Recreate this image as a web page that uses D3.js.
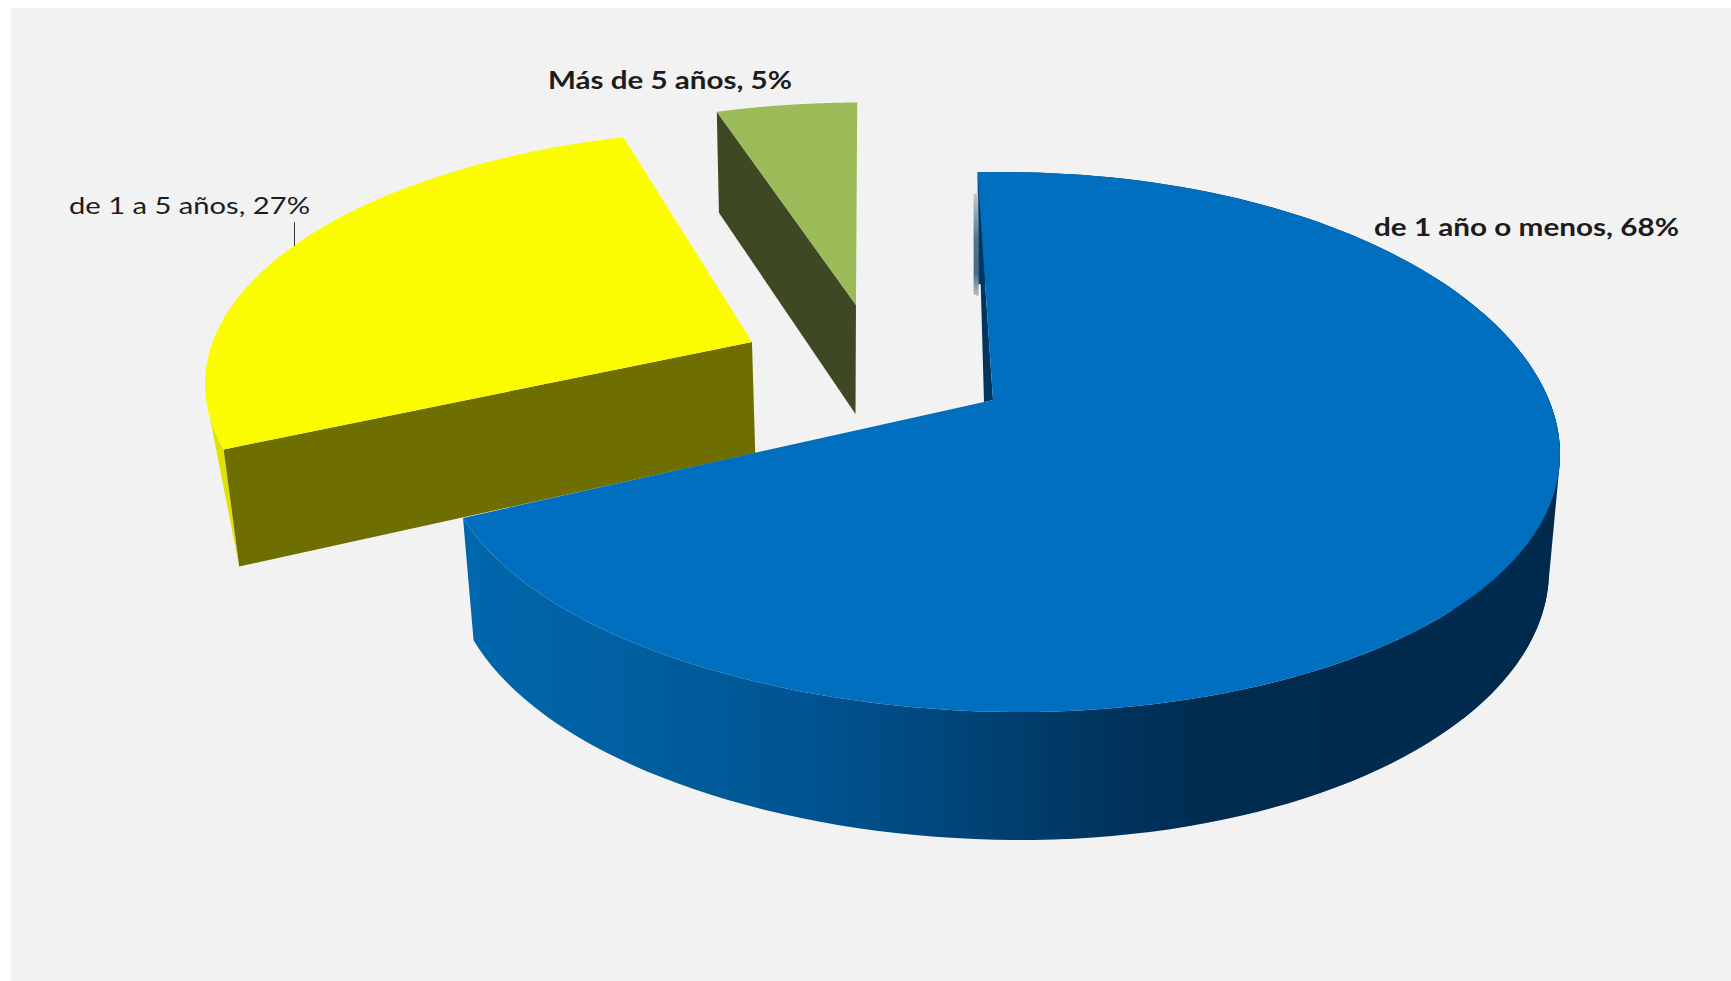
<!DOCTYPE html>
<html lang="es">
<head>
<meta charset="utf-8">
<script src="https://cdn.jsdelivr.net/npm/d3@7"></script>
<style>
html,body{margin:0;padding:0;background:#fff;overflow:hidden}
svg{display:block}
text{font-family:Lato,"Open Sans",sans-serif;fill:#1c1c1c}
</style>
</head>
<body>
<div id="chart"></div>
<script>
// ---- data ----
const categories = ["de 1 año o menos", "de 1 a 5 años", "Más de 5 años"];
const values = [68, 27, 5];
const topColors = ["#016fc0", "#fcfc00", "#9bbb59"];
const wallColors = ["#00355e", "#6f6e00", "#3e4923"];
const fontWeights = ["bold", "normal", "bold"];

// ---- layout (perspective-fitted ellipses for each exploded slice) ----
const W = 1731, H = 981;
const apex = [[-0.0125, -0.156], [-0.018, -0.165], [-0.0125, -0.156]];
const topEllipse = [
  {cx: 1000, cy: 442, rx: 560, ry: 270, sx: 0.035, sy: 0.045},
  {cx: 762,  cy: 384, rx: 557, ry: 255, sx: 0, sy: 0},
  {cx: 862.6, cy: 342.5, rx: 530, ry: 240, sx: 0, sy: 0}
];
const baseEllipse = [
  {cx: 1000, cy: 562, rx: 549, ry: 278, sx: 0.035, sy: 0.03},
  {cx: 765,  cy: 497.5, rx: 544, ry: 269, sx: 0, sy: 0},
  {cx: 862,  cy: 453, rx: 520, ry: 250, sx: 0, sy: 0}
];
// degrees added at each end of a slice by the 3D engine's foreshortening
const startTrim = [-0.4, 2.5, 1.6];
const endTrim = [1.7, 3.6, 1.6];
const yellowRimTop = 417;
const labelBox = [
  {x: 1374, y: 236, len: 305, size: 25},
  {x: 69,   y: 214, len: 241, size: 24},
  {x: 548,  y: 89,  len: 244, size: 25}
];

const rad = Math.PI / 180;
const pie = d3.pie().sort(null).value(d => d)
  .startAngle(-1.5 * rad).endAngle((360 - 1.5) * rad);
const arcs = pie(values);

const svg = d3.select("#chart").append("svg").attr("width", W).attr("height", H);

const defs = svg.append("defs");
const blueRim = defs.append("linearGradient").attr("id", "blueRim")
  .attr("gradientUnits", "userSpaceOnUse")
  .attr("x1", 464).attr("x2", 1560).attr("y1", 0).attr("y2", 0);
[[0, "#0067ad"], [0.16, "#005f9f"], [0.32, "#005391"], [0.46, "#004477"],
 [0.56, "#003763"], [0.68, "#002c50"], [1, "#002a4d"]]
  .forEach(([o, c]) => blueRim.append("stop").attr("offset", o).attr("stop-color", c));
const fade = defs.append("linearGradient").attr("id", "fadeWall")
  .attr("gradientUnits", "userSpaceOnUse")
  .attr("x1", 0).attr("x2", 0).attr("y1", 190).attr("y2", 300);
[[0, "#c8d2da"], [0.45, "#55748c"], [0.75, "#4a6a84"], [1, "#c4ced6"]]
  .forEach(([o, c]) => fade.append("stop").attr("offset", o).attr("stop-color", c));

// background panel
svg.append("rect").attr("x", 11).attr("y", 8).attr("width", W - 11).attr("height", H - 8)
  .attr("fill", "#f2f2f2");

// Perspective map: unit circle -> unit disc with centre sent to p (Klein boost)
function boost(u, p) {
  const pp = p[0] * p[0] + p[1] * p[1];
  const g = 1 / Math.sqrt(1 - pp);
  const d = p[0] * u[0] + p[1] * u[1];
  const k = g / (1 + g) * d;
  const den = 1 + d;
  return [(p[0] + u[0] / g + k * p[0]) / den, (p[1] + u[1] / g + k * p[1]) / den];
}
const unit = a => [Math.sin(a), -Math.cos(a)];
function project(b, e) {
  const x = d3.scaleLinear().domain([-1, 1]).range([e.cx - e.rx, e.cx + e.rx]);
  const y = d3.scaleLinear().domain([-1, 1]).range([e.cy - e.ry, e.cy + e.ry]);
  return [
    x(b[0]) + e.rx * e.sx * Math.max(b[1], 0) * (1 - b[0] * b[0]),
    y(b[1]) + e.ry * e.sy * Math.max(b[0], 0) * (1 - b[1] * b[1])
  ];
}
const line = d3.line();

function rimPoints(i, a0, a1, e) {
  const n = 140;
  return d3.range(n + 1).map(j => project(boost(unit(a0 + (a1 - a0) * j / n), apex[i]), e));
}

function drawSlice(i) {
  const a0 = arcs[i].startAngle + startTrim[i] * rad;
  const a1 = arcs[i].endAngle + endTrim[i] * rad;
  const g = svg.append("g").attr("class", "slice").attr("data-name", categories[i]);
  const topRim = rimPoints(i, a0, a1, topEllipse[i]);
  const baseRim = rimPoints(i, a0, a1, baseEllipse[i]);
  const ct = project(apex[i], topEllipse[i]);
  const cb = project(apex[i], baseEllipse[i]);

  if (i === 0) {
    // blue: outer rim face, closed on the right by the hull of both rims
    const rightTop = rimPoints(i, 60 * rad, 130 * rad, topEllipse[i]);
    const rightBase = rimPoints(i, 60 * rad, 130 * rad, baseEllipse[i]);
    g.append("path").attr("d", line(d3.polygonHull(rightTop.concat(rightBase))) + "Z")
      .attr("fill", "url(#blueRim)");
    g.append("path").attr("d", line(topRim.concat(baseRim.slice().reverse())) + "Z")
      .attr("fill", "url(#blueRim)");
    // thin visible sliver of the start face
    const pStart = topRim[0];
    g.append("path")
      .attr("d", line([[pStart[0] - 4, pStart[1] + 22], [pStart[0] - 4, pStart[1] + 122],
                       [pStart[0] + 1, pStart[1] + 124], [pStart[0] + 1, pStart[1] + 20]]) + "Z")
      .attr("fill", "url(#fadeWall)");
    g.append("path")
      .attr("d", line([pStart, [ct[0] - 9, ct[1] + 2], ct]) + "Z")
      .attr("fill", wallColors[0]);
  } else {
    if (i === 1) {
      // yellow: short visible piece of the outer rim beside the corner
      const rimPiece = topRim.filter(p => p[1] >= yellowRimTop);
      g.append("path").attr("d", line(rimPiece.concat([baseRim[0]])) + "Z").attr("fill", "#e2e200");
    }
    // radial cut face at the start of the slice
    g.append("path").attr("d", line([ct, topRim[0], baseRim[0], cb]) + "Z").attr("fill", wallColors[i]);
  }
  // top face
  g.append("path").attr("d", line([ct].concat(topRim)) + "Z").attr("fill", topColors[i]);
  return {topRim, ct};
}

// paint order: yellow, green, blue on top
const yellow = drawSlice(1);
drawSlice(2);
drawSlice(0);

// leader for the yellow slice
const leaderX = 294.5;
const leaderTarget = yellow.topRim.reduce((m, p) => Math.abs(p[0] - leaderX) < Math.abs(m[0] - leaderX) ? p : m);
svg.append("line")
  .attr("x1", leaderX).attr("x2", leaderX)
  .attr("y1", labelBox[1].y + 8).attr("y2", leaderTarget[1])
  .attr("stroke", "#3a3a3a").attr("stroke-width", 1);

// labels
svg.selectAll("text.label").data(categories).join("text")
  .attr("class", "label")
  .attr("x", (d, i) => labelBox[i].x)
  .attr("y", (d, i) => labelBox[i].y)
  .attr("font-size", (d, i) => labelBox[i].size)
  .attr("font-weight", (d, i) => fontWeights[i])
  .attr("textLength", (d, i) => labelBox[i].len)
  .attr("lengthAdjust", "spacingAndGlyphs")
  .text((d, i) => `${d}, ${values[i]}%`);
</script>
</body>
</html>
